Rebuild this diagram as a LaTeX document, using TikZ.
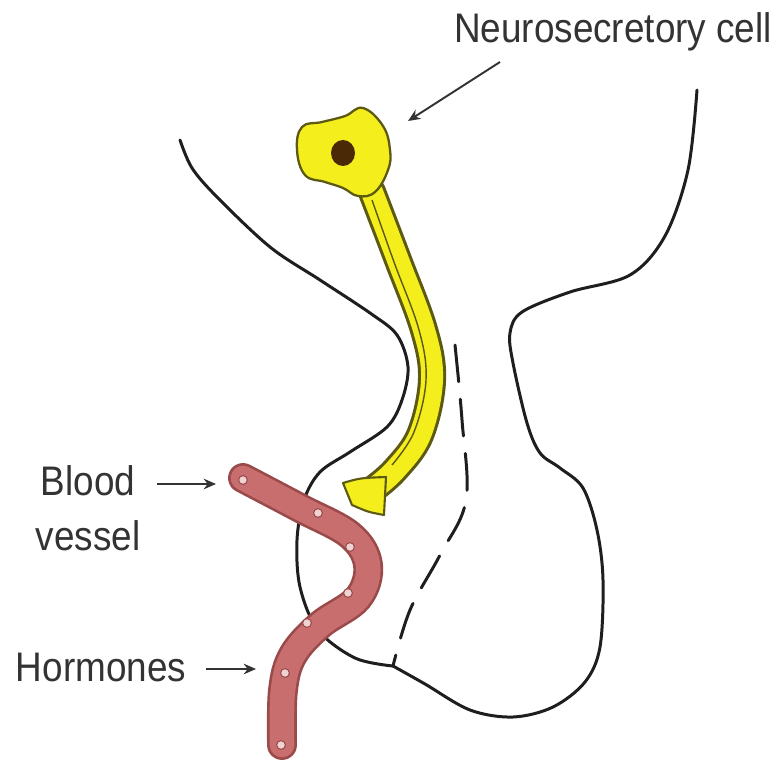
\documentclass[tikz,border=0pt]{standalone}
\usepackage{fontspec}
\setmainfont{Liberation Sans}
\usetikzlibrary{arrows.meta}
\definecolor{outline}{HTML}{1E1E1E}
\definecolor{cellyellow}{HTML}{F4EE1C}
\definecolor{celledge}{HTML}{5C5A12}
\definecolor{nucleus}{HTML}{4A2A06}
\definecolor{vesselfill}{HTML}{C96E6E}
\definecolor{vesseledge}{HTML}{9A4A4A}
\definecolor{labeltext}{HTML}{333333}
\tikzset{
  wall/.style={draw=outline, line width=1.7pt, line join=round, line cap=round},
  label/.style={text=labeltext, font=\fontsize{21}{28}\selectfont, align=center, inner sep=0pt, yscale=1.12, transform shape},
  pointer/.style={draw=labeltext, line width=1.1pt, -{Stealth[length=7pt,width=6pt]}},
  marker/.style={circle, draw=vesseledge, fill=white!70!vesselfill, line width=0.6pt, minimum size=5pt, inner sep=0pt}
}
\begin{document}
\begin{tikzpicture}[x=0.02cm, y=-0.02cm]
\useasboundingbox (0,0) rectangle (777,760);
\fill[white] (0,0) rectangle (777,760);

% outline of hypothalamus and pituitary
\draw[wall] plot[smooth, tension=0.55] coordinates {
  (180,140) (192,168) (217,197) (270,247) (320,280) (370,313) (397,335)
  (408,367) (402,400) (387,427) (350,452) (320,472) (304,500) (297,540)
  (300,587) (318,630) (355,658) (393,666)};
\draw[wall] plot[smooth, tension=0.55] coordinates {
  (393,666) (425,684) (470,710) (513,717) (553,707) (585,682) (600,647)
  (603,580) (597,530) (583,488) (560,468) (540,453) (527,423) (513,363)
  (510,333) (522,312) (570,292) (630,275) (665,236) (688,170) (697,90)};
% boundary between lobes
\draw[wall, dash pattern=on 21pt off 10pt] plot[smooth, tension=0.6] coordinates {
  (455,345) (462,420) (466,500) (440,555) (410,610) (393,666)};

% neurosecretory cell: axon
\draw[celledge, line width=16pt, line cap=round] plot[smooth, tension=0.6] coordinates {
  (372,192) (398,260) (424,330) (432,380) (420,435) (395,470) (372,490)};
\draw[cellyellow, line width=12.5pt, line cap=round] plot[smooth, tension=0.6] coordinates {
  (372,192) (398,260) (424,330) (432,380) (420,435) (395,470) (372,490)};
\draw[celledge, line width=0.8pt] plot[smooth, tension=0.6] coordinates {
  (372,200) (394,262) (419,330) (426,380) (414,432) (392,465)};
% axon terminal
\filldraw[fill=cellyellow, draw=celledge, line width=1.2pt, line join=round]
  (343,483) .. controls (360,478) .. (386,477) -- (384,515)
  .. controls (368,512) .. (352,505) -- cycle;
% cell body
\filldraw[fill=cellyellow, draw=celledge, line width=1.3pt] plot[smooth cycle, tension=0.7] coordinates {
  (297,150) (302,127) (322,122) (345,116) (363,108) (383,126) (390,150)
  (388,170) (375,192) (358,196) (343,188) (325,182) (305,175)};
\fill[nucleus] (343,153) ellipse (12 and 13);

% blood vessel
\draw[vesseledge, line width=17pt, line cap=round] plot[smooth, tension=0.6] coordinates {
  (243,478) (300,508) (350,535) (368,565) (358,598) (320,625) (293,655) (283,690) (282,745)};
\draw[vesselfill, line width=14pt, line cap=round] plot[smooth, tension=0.6] coordinates {
  (243,478) (300,508) (350,535) (368,565) (358,598) (320,625) (293,655) (283,690) (282,745)};
% hormone particles in the vessel
\node[marker] (h1) at (243,480) {};
\node[marker] (h2) at (318,513) {};
\node[marker] (h3) at (350,547) {};
\node[marker] (h4) at (348,593) {};
\node[marker] (h5) at (307,623) {};
\node[marker] (h6) at (285,673) {};
\node[marker] (h7) at (281,745) {};

% labels
\node[label] (neuro) at (613,32) {Neurosecretory cell};
\node[label] (blood) at (88,508) {Blood\\vessel};
\node[label] (horm) at (101,667) {Hormones};

\coordinate (neuroTip) at (408,121);
\coordinate (neuroTail) at (500,62);
\coordinate (bloodTail) at (157,484);
\coordinate (bloodTip) at (216,484);
\coordinate (hormTail) at (206,669);
\coordinate (hormTip) at (256,669);
\draw[pointer] (neuroTail) -- (neuroTip);
\draw[pointer] (bloodTail) -- (bloodTip);
\draw[pointer] (hormTail) -- (hormTip);
\end{tikzpicture}
\end{document}
